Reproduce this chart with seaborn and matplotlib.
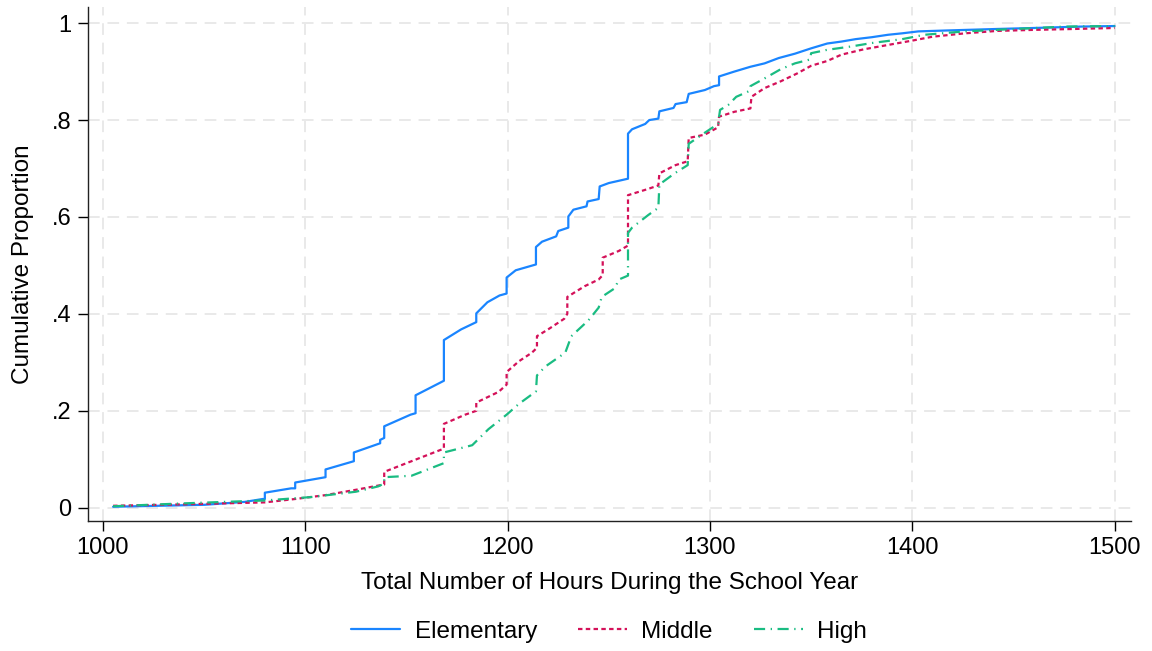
import matplotlib
matplotlib.use("Agg")
import matplotlib.pyplot as plt
import seaborn as sns
import pandas as pd

# cumulative distribution paths (hours, cumulative proportion); repeated hours = vertical jumps
elem_hours = [1005, 1050, 1070, 1079, 1080, 1080, 1093, 1095, 1095, 1110, 1110, 1124, 1124,
              1137, 1137, 1139, 1139, 1152, 1154.5, 1154.5, 1168.5, 1168.5, 1177, 1184.5,
              1184.5, 1190, 1196, 1199.5, 1199.5, 1204, 1214, 1214, 1217, 1224, 1225, 1230,
              1230, 1232.5, 1239, 1239.5, 1245, 1245.5, 1250, 1259.5, 1259.5, 1261.5, 1268,
              1270, 1274.5, 1275, 1282, 1283, 1288.5, 1289.5, 1297.5, 1302, 1304.5, 1304.5,
              1312, 1320, 1327, 1334, 1342, 1350, 1358, 1365, 1372, 1380, 1388, 1395, 1403,
              1418, 1442, 1460, 1484, 1500]
elem_prop = [0.002, 0.006, 0.012, 0.018, 0.018, 0.031, 0.040, 0.040, 0.052, 0.063, 0.079, 0.096,
             0.114, 0.133, 0.140, 0.144, 0.168, 0.192, 0.195, 0.232, 0.262, 0.346, 0.368, 0.383,
             0.401, 0.424, 0.438, 0.442, 0.475, 0.490, 0.502, 0.538, 0.549, 0.560, 0.571, 0.578,
             0.601, 0.615, 0.622, 0.632, 0.637, 0.663, 0.670, 0.679, 0.772, 0.781, 0.792,
             0.800, 0.803, 0.818, 0.825, 0.833, 0.837, 0.854, 0.862, 0.870, 0.872, 0.890,
             0.900, 0.910, 0.917, 0.928, 0.937, 0.948, 0.958, 0.962, 0.967, 0.971, 0.976, 0.979,
             0.983, 0.985, 0.988, 0.990, 0.993, 0.994]

mid_hours = [1005, 1040, 1080, 1095, 1110, 1125, 1139, 1139, 1152.5, 1168.5, 1168.5, 1179,
             1184.5, 1184.5, 1195.5, 1199.5, 1199.5, 1205.5, 1212, 1214.5, 1214.5, 1220, 1228,
             1229.5, 1229.5, 1238, 1245, 1247, 1247, 1255, 1259.5, 1259.5, 1268, 1274.5, 1275,
             1283, 1289, 1289.5, 1297.5, 1304, 1304.5, 1312, 1320, 1320.5, 1327, 1335, 1343,
             1350, 1358, 1365, 1376, 1388, 1400, 1410, 1426, 1442, 1459, 1480, 1500]
mid_prop = [0.004, 0.007, 0.011, 0.018, 0.026, 0.037, 0.048, 0.074, 0.096, 0.122, 0.173, 0.192,
            0.200, 0.217, 0.239, 0.254, 0.280, 0.302, 0.320, 0.330, 0.354, 0.368, 0.390,
            0.400, 0.435, 0.457, 0.471, 0.480, 0.516, 0.530, 0.541, 0.645, 0.656, 0.665, 0.690,
            0.707, 0.715, 0.763, 0.770, 0.785, 0.807, 0.817, 0.824, 0.848, 0.866, 0.880, 0.896,
            0.912, 0.922, 0.935, 0.946, 0.955, 0.964, 0.972, 0.979, 0.984, 0.986, 0.988, 0.990]

high_hours = [1005, 1040, 1080, 1103, 1125, 1136, 1139, 1139, 1152.5, 1168.5, 1168.5, 1182.5,
              1190.5, 1199.5, 1205.5, 1214, 1214.5, 1218.5, 1228.5, 1231.5, 1240, 1245, 1246.5,
              1253, 1255, 1259.5, 1259.5, 1261.5, 1269.5, 1274.5, 1275, 1282.5, 1289, 1289.5,
              1297.5, 1304, 1305, 1309, 1313, 1319.5, 1320, 1327, 1335, 1342, 1349.5, 1350,
              1358, 1370, 1380, 1395, 1406, 1426, 1451, 1476, 1500]
high_prop = [0.003, 0.009, 0.015, 0.022, 0.033, 0.044, 0.050, 0.063, 0.066, 0.092, 0.114, 0.129,
             0.162, 0.192, 0.214, 0.240, 0.273, 0.291, 0.320, 0.354, 0.387, 0.413, 0.435,
             0.453, 0.471, 0.479, 0.567, 0.578, 0.604, 0.619, 0.667, 0.690, 0.707, 0.751,
             0.774, 0.792, 0.821, 0.831, 0.848, 0.860, 0.870, 0.886, 0.905, 0.917, 0.925, 0.938,
             0.945, 0.952, 0.959, 0.967, 0.976, 0.983, 0.988, 0.993, 0.994]

levels = ["Elementary", "Middle", "High"]
x_ticks = [1000, 1100, 1200, 1300, 1400, 1500]
y_ticks = [0, 0.2, 0.4, 0.6, 0.8, 1]
y_tick_labels = ["0", ".2", ".4", ".6", ".8", "1"]

df = pd.concat([
    pd.DataFrame({"hours": elem_hours, "prop": elem_prop, "level": "Elementary"}),
    pd.DataFrame({"hours": mid_hours, "prop": mid_prop, "level": "Middle"}),
    pd.DataFrame({"hours": high_hours, "prop": high_prop, "level": "High"}),
])

sns.set_theme(style="ticks")
plt.rcParams["font.family"] = ["Liberation Sans", "DejaVu Sans"]
plt.rcParams["text.color"] = "black"
plt.rcParams["axes.labelcolor"] = "black"
plt.rcParams["xtick.color"] = "black"
plt.rcParams["ytick.color"] = "black"

fig = plt.figure(figsize=(11.52, 6.51), dpi=100)
ax = fig.add_axes([0.0764, 0.2, 0.905, 0.789])

palette = {"Elementary": "#1a85ff", "Middle": "#d41159", "High": "#1abc82"}
dashes = {"Elementary": "", "Middle": (2, 1.5), "High": (5, 2.5, 0.6, 2.5)}
sns.lineplot(data=df, x="hours", y="prop", hue="level", style="level",
             hue_order=levels, style_order=levels, palette=palette, dashes=dashes,
             linewidth=1.6, estimator=None, sort=True, ax=ax)

ax.set_xlim(992.6, 1507.9)
ax.set_ylim(-0.027, 1.033)
ax.set_xticks(x_ticks)
ax.set_yticks(y_ticks)
ax.set_yticklabels(y_tick_labels)
ax.tick_params(axis="both", labelsize=17, length=7, width=1, pad=5)
ax.grid(True, color="#e9e9e9", linestyle=(0, (6, 4)), linewidth=1.4)
ax.set_axisbelow(True)
sns.despine(ax=ax)
for s in ["left", "bottom"]:
    ax.spines[s].set_color("#222222")
    ax.spines[s].set_linewidth(1)

ax.set_xlabel("Total Number of Hours During the School Year", fontsize=17.5, labelpad=9)
ax.set_ylabel("Cumulative Proportion", fontsize=17.5, labelpad=13)

sns.move_legend(ax, "center", bbox_to_anchor=(0.5, -0.216), ncol=3,
                frameon=False, title=None, fontsize=17.5, handlelength=2.0,
                handletextpad=0.6, columnspacing=1.7)

fig.savefig("out.png", dpi=100)
